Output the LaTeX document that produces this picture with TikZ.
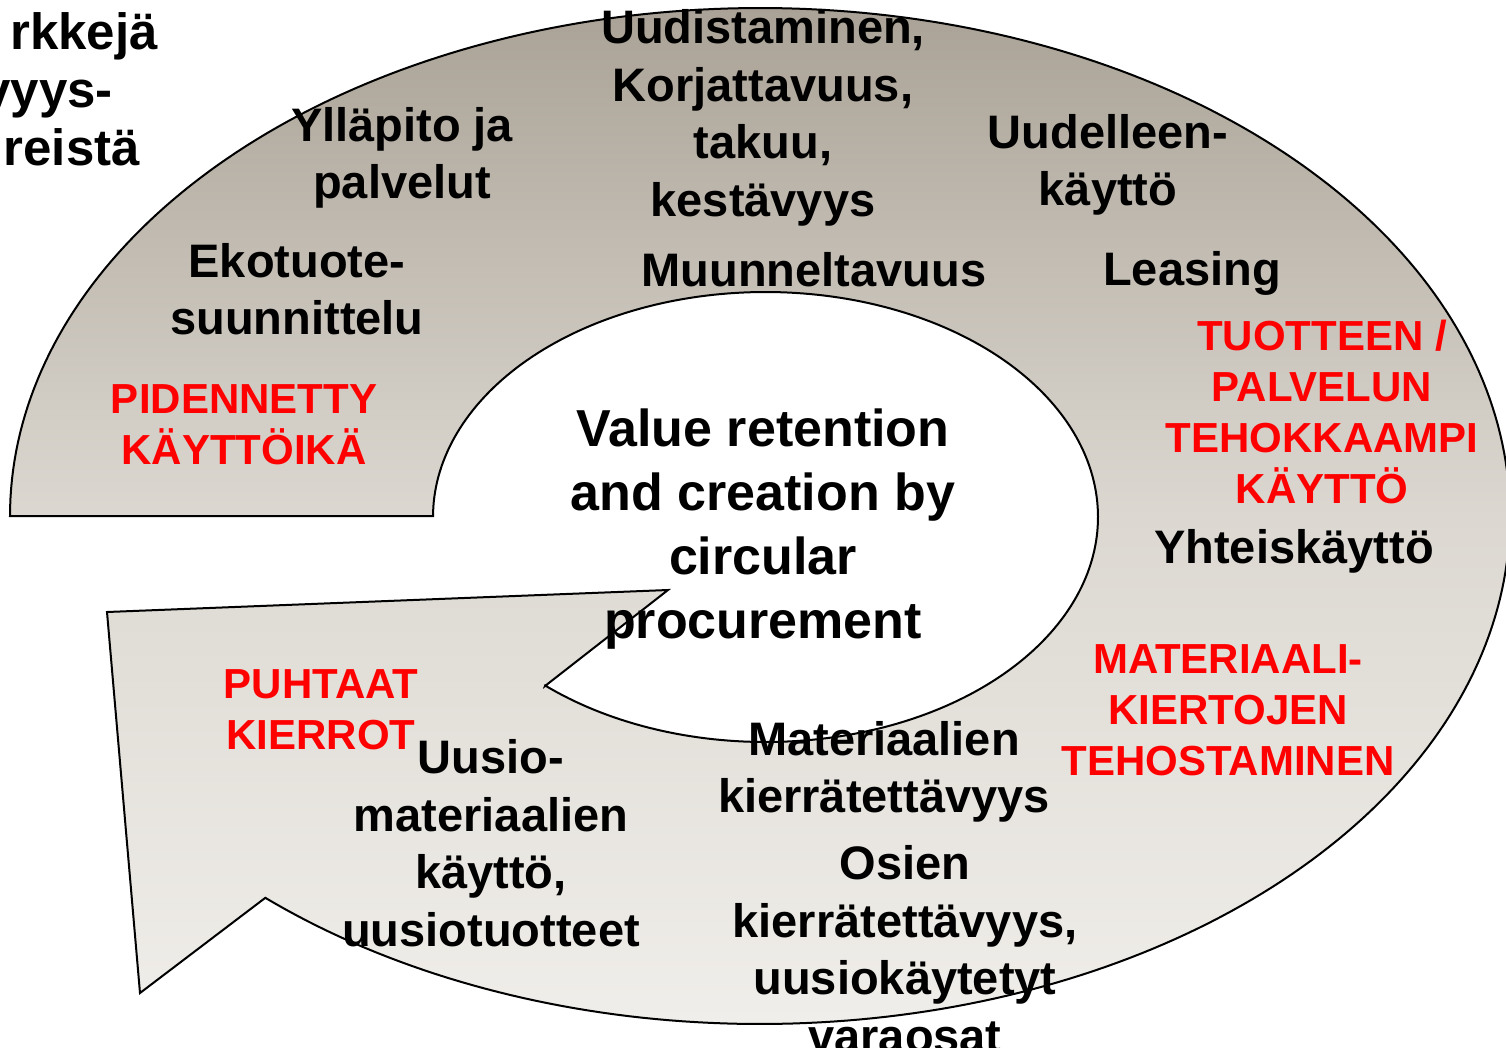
\documentclass[tikz,border=0pt]{standalone}
\usepackage{fontspec}
\setmainfont{Liberation Sans}
\definecolor{gtop}{RGB}{170,162,150}
\definecolor{gmid}{RGB}{220,216,209}
\definecolor{gbot}{RGB}{240,238,234}
\definecolor{redtext}{RGB}{255,0,0}
\tikzset{
  blk/.style={font=\fontsize{47}{57.5}\selectfont\bfseries, align=center, inner sep=0pt, text=black},
  redtxt/.style={font=\fontsize{42}{51}\selectfont\bfseries, align=center, inner sep=0pt, text=redtext},
  ctr/.style={font=\fontsize{52}{64}\selectfont\bfseries, align=center, inner sep=0pt, text=black},
  frag/.style={font=\fontsize{51}{57.5}\selectfont\bfseries, inner sep=0pt, anchor=base east},
  loopshape/.style={draw=black, line width=2pt, line join=miter, top color=gtop, bottom color=gbot, middle color=gmid}
}
\begin{document}
\begin{tikzpicture}[x=1pt,y=-1pt]
\useasboundingbox (0,0) rectangle (1506,1047);
\fill[white] (0,0) rectangle (1506,1047);
% circular arrow shape
\path[loopshape] (433,516) -- (10,516)
  -- plot[domain=180:491.27, samples=300] ({760+750*cos(\x)},{516+508*sin(\x)})
  -- (140,993) -- (107,612) -- (668,590) -- (545,686)
  -- plot[domain=131.5:-180, samples=240] ({765.5+332.5*cos(\x)},{517+225*sin(\x)})
  -- cycle;
% cut-off heading at top left
\node[frag] (f1) at (158,49) {rkkejä};
\node[frag] (f2) at (113,107) {vyys-};
\node[frag] (f3) at (140,165) {reistä};
% labels
\node[blk] (yllapito) at (402,158) {Ylläpito ja\\palvelut};
\node[blk] (uudist) at (763,118) {Uudistaminen,\\Korjattavuus,\\takuu,\\kestävyys};
\node[blk] (uudell) at (1108,165) {Uudelleen-\\käyttö};
\node[blk] (eko) at (297,289) {Ekotuote-\\suunnittelu};
\node[blk] (muun) at (814,270) {Muunneltavuus};
\node[blk] (leasing) at (1192,273) {Leasing};
\node[redtxt] (pid) at (244,425) {PIDENNETTY\\KÄYTTÖIKÄ};
\node[redtxt] (tuot) at (1322,412) {TUOTTEEN /\\PALVELUN\\TEHOKKAAMPI\\KÄYTTÖ};
\node[blk] (yht) at (1294,551) {Yhteiskäyttö};
\node[redtxt] (mat) at (1228,710) {MATERIAALI-\\KIERTOJEN\\TEHOSTAMINEN};
\node[ctr] (center) at (763,529) {Value retention\\and creation by\\circular\\procurement};
\node[redtxt] (puht) at (321,710) {PUHTAAT\\KIERROT};
\node[blk] (uusio) at (491,843) {Uusio-\\materiaalien\\käyttö,\\uusiotuotteet};
\node[blk] (matk) at (884,772) {Materiaalien\\kierrätettävyys};
\node[blk] (osien) at (905,949) {Osien\\kierrätettävyys,\\uusiokäytetyt\\varaosat};
\end{tikzpicture}
\end{document}
